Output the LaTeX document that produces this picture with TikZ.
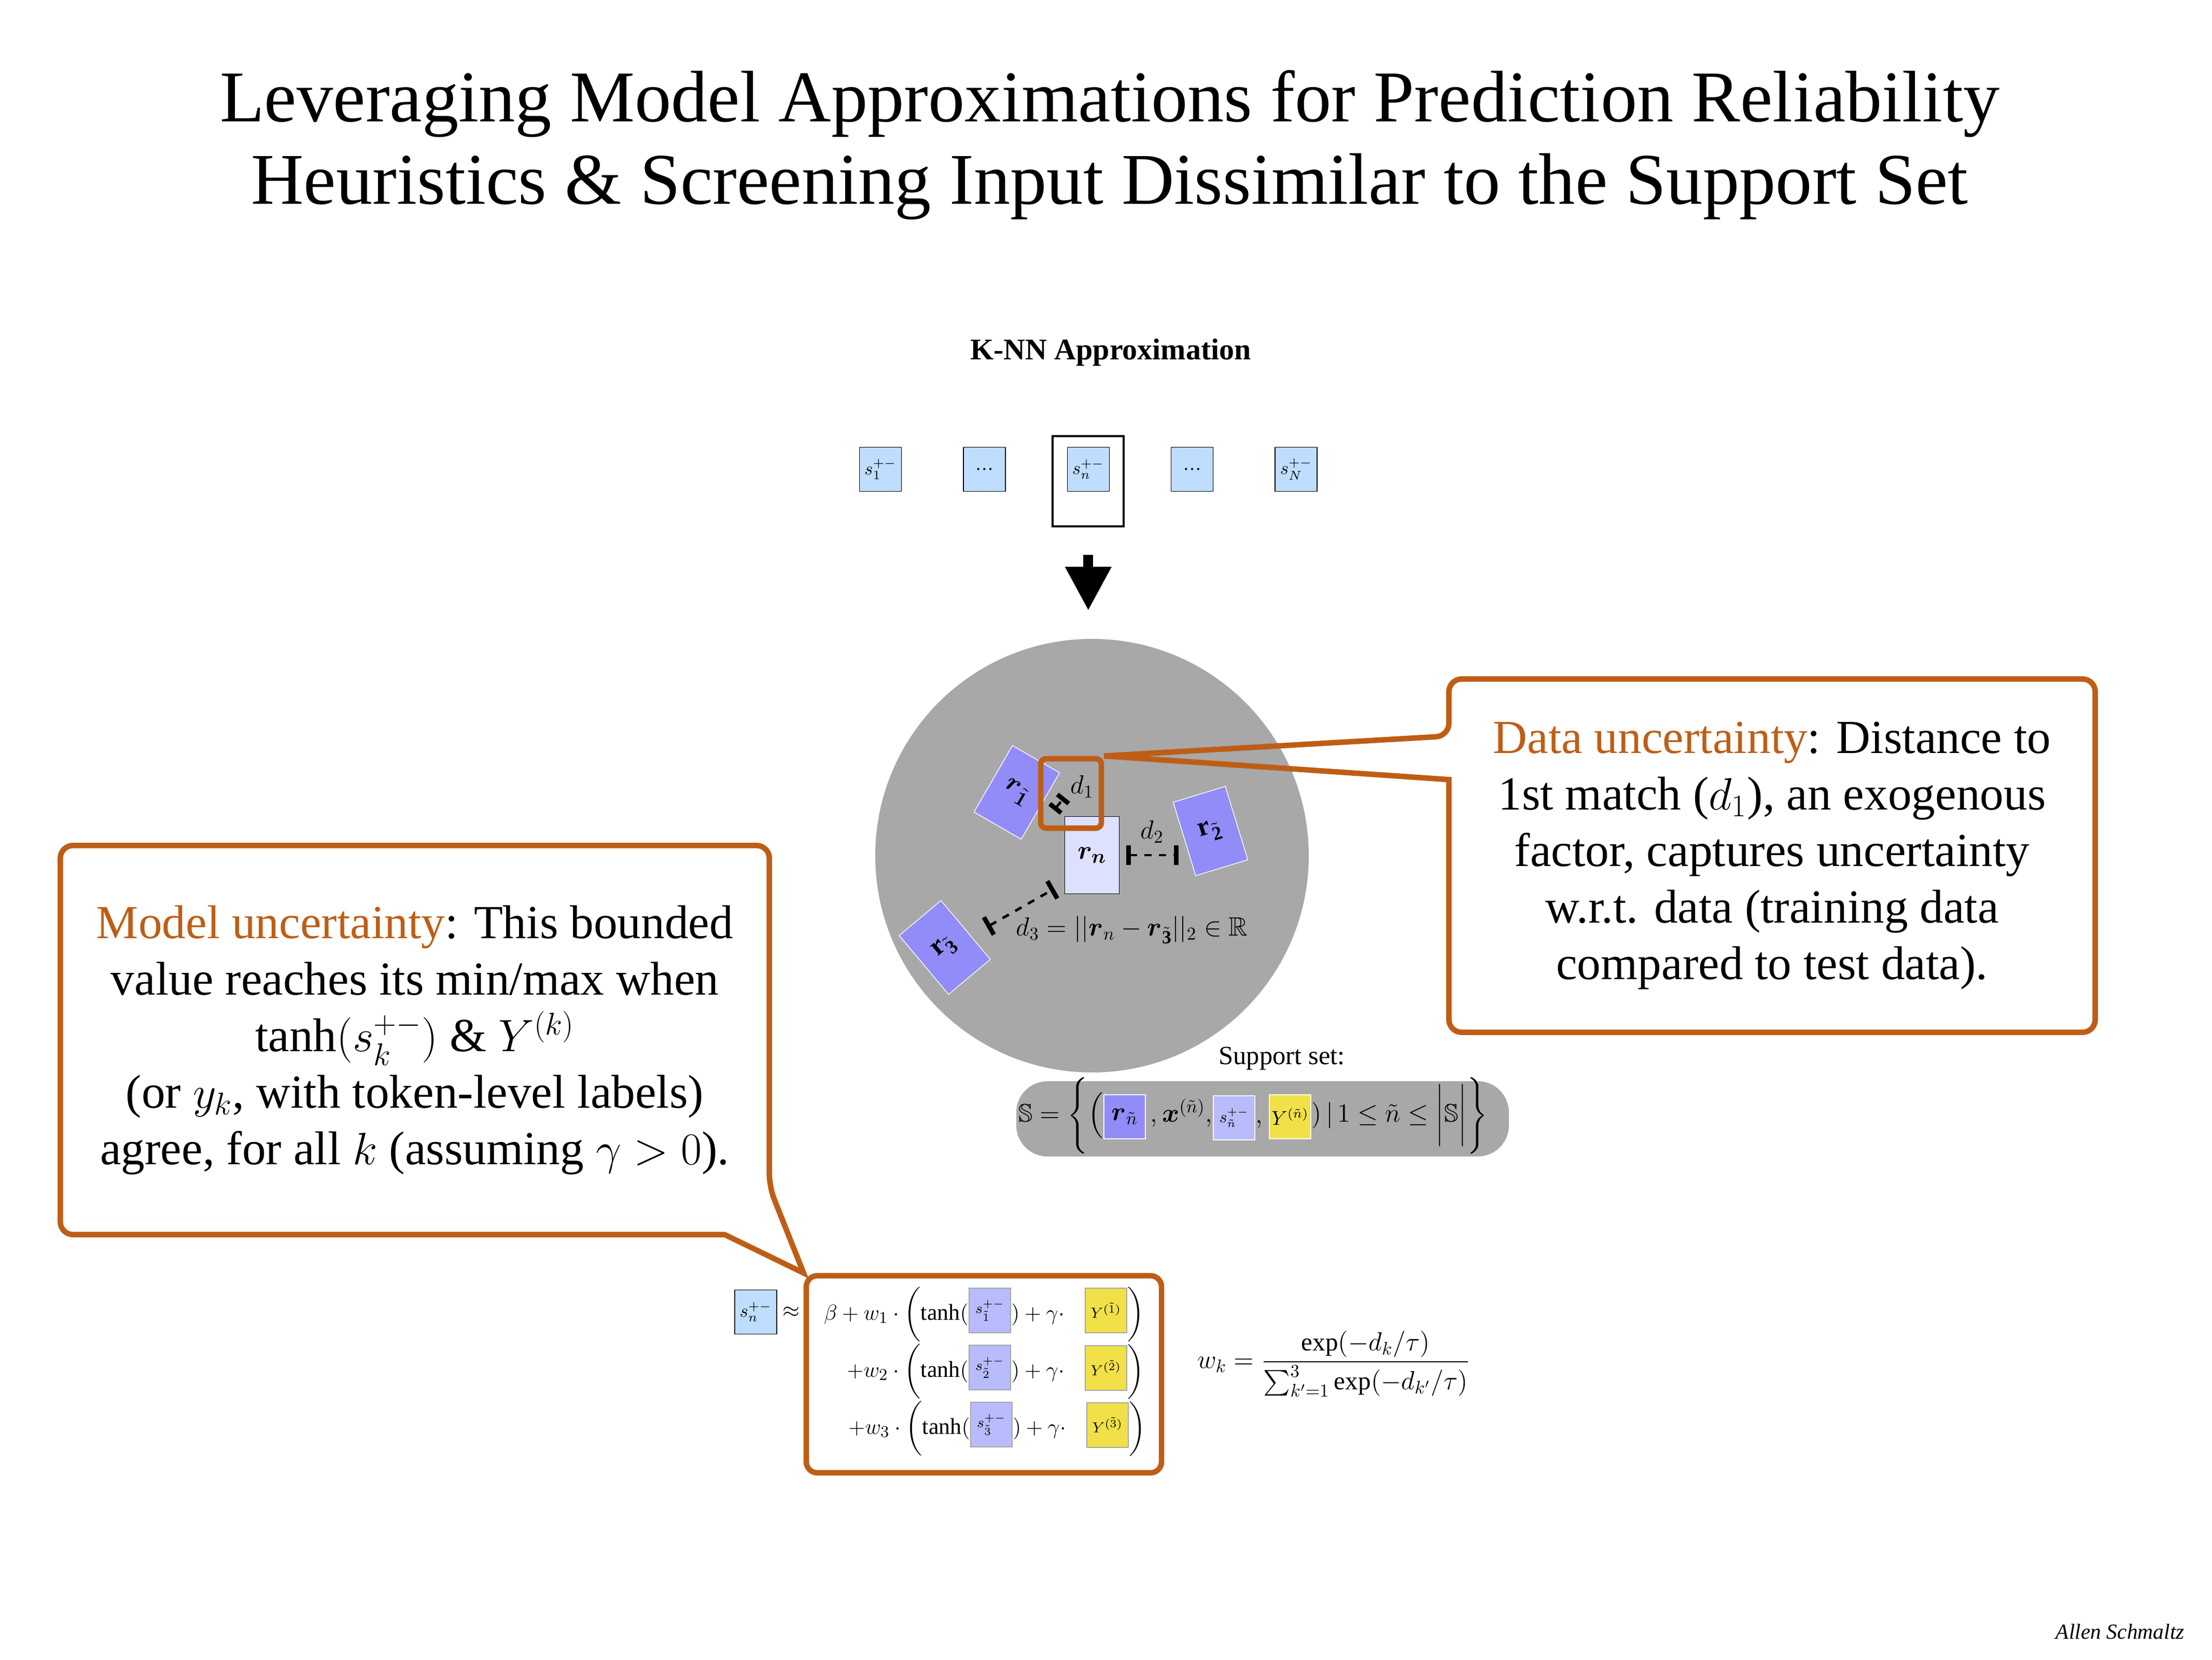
\documentclass[tikz,border=0pt]{standalone}
\usepackage{fontspec}
\setmainfont{Liberation Serif}
\usepackage{amsmath,amssymb}
\usetikzlibrary{positioning,arrows.meta}
\definecolor{skybox}{RGB}{191,221,255}
\definecolor{rviolet}{RGB}{145,140,248}
\definecolor{rpale}{RGB}{221,225,255}
\definecolor{slav}{RGB}{184,188,252}
\definecolor{ylab}{RGB}{241,224,72}
\definecolor{poolgray}{RGB}{168,168,168}
\definecolor{rust}{RGB}{190,94,22}
\begin{document}
\begin{tikzpicture}[
    sbox/.style={draw,fill=skybox,minimum width=0.81cm,minimum height=0.85cm,inner sep=0pt,font=\fontsize{10}{12}\selectfont},
    rbox/.style={draw=white,fill=rviolet,minimum width=1.05cm,minimum height=1.48cm,inner sep=0pt,font=\fontsize{15}{17}\selectfont},
    tok/.style={draw=gray!70,minimum width=0.80cm,minimum height=0.86cm,inner sep=0pt,font=\fontsize{8}{10}\selectfont},
    settok/.style={draw=white,minimum width=0.80cm,minimum height=0.85cm,inner sep=0pt},
    distbar/.style={line width=1.4pt,dash pattern=on 4pt off 4pt,arrows={Bar[width=#1,line width=2.5pt]-Bar[width=#1,line width=2.5pt]}},
    distbar/.default=11pt,
    rustline/.style={draw=rust,line width=3pt},
    notetext/.style={align=center,font=\fontsize{26}{31}\selectfont},
    rowtext/.style={inner sep=0pt,font=\fontsize{12.5}{15}\selectfont},
    settext/.style={inner sep=0pt,font=\fontsize{14}{17}\selectfont}
]
    \useasboundingbox (0,0) rectangle (42.66,32);
    \node[anchor=north,align=center,inner sep=0pt,font=\fontsize{40}{45.2}\selectfont] (title) at (21.40,30.65) {Leveraging Model Approximations for Prediction Reliability\\Heuristics \& Screening Input Dissimilar to the Support Set};
    \node[anchor=base,font=\fontsize{16.5}{20}\selectfont\bfseries] (knn) at (21.42,25.06) {K-NN Approximation};

    \node[sbox] (s1) at (16.98,22.95) {$s^{+-}_1$};
    \node[sbox,right=1.18cm of s1] (dotsl) {\dots};
    \node[sbox,right=1.18cm of dotsl] (sn) {$s^{+-}_n$};
    \node[sbox,right=1.18cm of sn] (dotsr) {\dots};
    \node[sbox,right=1.18cm of dotsr] (sN) {$s^{+-}_N$};
    \node[draw,line width=1.2pt,minimum width=1.37cm,minimum height=1.74cm,anchor=north] (pick) at ([yshift=0.23cm]sn.north) {};

    \node[circle,fill=poolgray,minimum size=8.36cm,inner sep=0pt] (pool) at (21.06,15.50) {};
    \draw[line width=5.4pt,-{Triangle[length=24pt,width=24pt]},shorten <=0.53cm,shorten >=0.54cm] (pick.south) -- (pick.south |- pool.north);
    \node[draw,fill=rpale,minimum width=1.05cm,minimum height=1.49cm,inner sep=0pt,font=\fontsize{15}{17}\selectfont] (rn) at (21.06,15.51) {$\boldsymbol{r_n}$};
    \node[rbox,rotate=-30] (ra) at (19.61,16.72) {$\boldsymbol{r}_{\tilde{\boldsymbol{1}}}$};
    \node[rbox,rotate=17] (rb) at (23.345,15.975) {$\mathbf{r}_{\tilde{\mathbf{2}}}$};
    \node[rbox,rotate=40] (rc) at (18.22,13.73) {$\mathbf{r}_{\tilde{\mathbf{3}}}$};
    \draw[distbar=8pt] ([shift={(-0.20,0.115)}]rn.north west) -- ([shift={(0,0.365)}]rn.north west);
    \draw[distbar] ([xshift=0.13cm]rn.east) -- ([xshift=1.14cm]rn.east);
    \draw[distbar] ([shift={(-1.495,-0.635)}]rn.south west) -- ([shift={(-0.195,0.105)}]rn.south west);
    \node[font=\fontsize{14}{16}\selectfont] (done) at (20.87,16.83) {$d_1$};
    \node[font=\fontsize{14}{16}\selectfont] (dtwo) at (22.22,15.96) {$d_2$};
    \node[anchor=base west,inner sep=0pt,font=\fontsize{14.5}{17}\selectfont] (dthree) at (19.59,13.95) {$d_3 = ||\boldsymbol{r}_n-\boldsymbol{r}_{\tilde{\mathbf{3}}}||_2 \in \mathbb{R}$};
    \node[rustline,rounded corners=3pt,minimum width=1.17cm,minimum height=1.34cm] (dbox) at (20.655,16.70) {};

    \node[notetext,minimum width=12.45cm,minimum height=6.80cm] (datanote) at (34.175,15.50) {\textcolor{rust}{Data uncertainty}: Distance to\\1st match ($d_1$), an exogenous\\factor, captures uncertainty\\w.r.t. data (training data\\compared to test data).};
    \draw[rustline,rounded corners=7pt] ([yshift=-1.94cm]datanote.north west) -- (datanote.south west) -- (datanote.south east) -- (datanote.north east) -- (datanote.north west) -- ([yshift=-1.10cm]datanote.north west) [sharp corners] -- (dbox.north east) -- cycle;

    \node[anchor=base,font=\fontsize{14.4}{17}\selectfont] (suplabel) at (24.72,11.47) {Support set:};
    \node[fill=poolgray,rounded corners=0.6cm,minimum width=9.5cm,minimum height=1.45cm] (pill) at (24.35,10.425) {};
    \node[settok,fill=rviolet,font=\fontsize{14}{16}\selectfont] (rs) at (21.69,10.465) {$\boldsymbol{r}_{\tilde{n}}$};
    \node[settok,fill=slav,font=\fontsize{9}{11}\selectfont] (ss) at (23.80,10.445) {$s^{+-}_{\tilde{n}}$};
    \node[settok,fill=ylab,font=\fontsize{10.5}{12}\selectfont] (ys) at (24.88,10.465) {$Y^{(\tilde{n})}$};
    \node[settext,anchor=base east] (setlead) at ([yshift=-0.1cm]rs.west) {$\mathbb{S} = \Bigg\{\Bigl($};
    \node[settext,anchor=base west] (setmid) at ([yshift=-0.1cm]rs.east) {$\,,\boldsymbol{x}^{(\tilde{n})},$};
    \node[settext,anchor=base west] (setcomma) at ([yshift=-0.1cm]ss.east) {$,$};
    \node[settext,anchor=base west] (settail) at ([yshift=-0.1cm]ys.east) {$)\,|\,1\le\tilde{n}\le\biggl|\mathbb{S}\biggr|\Bigg\}$};

    \node[rustline,rounded corners=6pt,minimum width=6.85cm,minimum height=3.80cm] (approx) at (18.975,5.50) {};
    \node[sbox] (lhs) at (14.575,6.70) {$s^{+-}_n$};
    \node[tok,fill=slav] (sa1) at (19.09,6.73) {$s^{+-}_{\tilde{1}}$};
    \node[tok,fill=slav] (sa2) at (19.09,5.63) {$s^{+-}_{\tilde{2}}$};
    \node[tok,fill=slav] (sa3) at (19.12,4.53) {$s^{+-}_{\tilde{3}}$};
    \node[tok,fill=ylab] (yb1) at (21.33,6.73) {$Y^{(\tilde{1})}$};
    \node[tok,fill=ylab] (yb2) at (21.33,5.62) {$Y^{(\tilde{2})}$};
    \node[tok,fill=ylab] (yb3) at (21.36,4.52) {$Y^{(\tilde{3})}$};
    \node[rowtext,anchor=west] (approxsign) at ([xshift=0.1cm]lhs.east) {$\approx$};
    \node[rowtext,anchor=base east] (lead1) at ([yshift=-0.18cm]sa1.west) {$\beta + w_1\cdot\biggl(\tanh($};
    \node[rowtext,anchor=base east] (lead2) at ([yshift=-0.18cm]sa2.west) {$+w_2\cdot\biggl(\tanh($};
    \node[rowtext,anchor=base east] (lead3) at ([yshift=-0.18cm]sa3.west) {$+w_3\cdot\biggl(\tanh($};
    \node[rowtext,anchor=base west] (mid1) at ([yshift=-0.18cm]sa1.east) {$)+\gamma\cdot$};
    \node[rowtext,anchor=base west] (mid2) at ([yshift=-0.18cm]sa2.east) {$)+\gamma\cdot$};
    \node[rowtext,anchor=base west] (mid3) at ([yshift=-0.18cm]sa3.east) {$)+\gamma\cdot$};
    \node[rowtext,anchor=base west] (end1) at ([yshift=-0.18cm]yb1.east) {$\biggr)$};
    \node[rowtext,anchor=base west] (end2) at ([yshift=-0.18cm]yb2.east) {$\biggr)$};
    \node[rowtext,anchor=base west] (end3) at ([yshift=-0.18cm]yb3.east) {$\biggr)$};

    \node[notetext,minimum width=13.66cm,minimum height=7.49cm] (modelnote) at (8.00,11.945) {\textcolor{rust}{Model uncertainty}: This bounded\\value reaches its min/max when\\$\tanh(s_k^{+-})$ \& $Y^{(k)}$\\(or $y_k$, with token-level labels)\\agree, for all $k$ (assuming $\gamma > 0$).};
    \draw[rustline,rounded corners=7pt] ([xshift=-0.86cm]modelnote.south east) -- (modelnote.south west) -- (modelnote.north west) -- (modelnote.north east) -- ([yshift=0.92cm]modelnote.south east) [sharp corners] -- (approx.north west) -- cycle;

    \node[font=\fontsize{14}{17}\selectfont] (weight) at (25.72,5.70) {$w_k = \dfrac{\exp(-d_k/\tau)}{\textstyle\sum_{k'=1}^{3}\exp(-d_{k'}/\tau)}$};
    \node[anchor=base east,font=\fontsize{11.8}{14}\selectfont\itshape] (author) at (42.25,0.40) {Allen Schmaltz};
\end{tikzpicture}
\end{document}
